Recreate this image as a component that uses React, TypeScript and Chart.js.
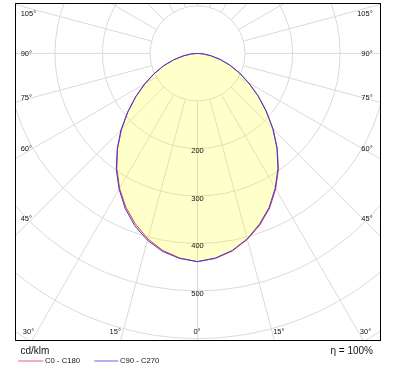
import React, { useEffect, useRef } from 'react';
import { Chart, registerables } from 'chart.js';

Chart.register(...registerables);

// Gamma angles (deg from nadir) and luminous intensity (cd/klm) per C-plane
const GAMMA = [0, 5, 10, 15, 20, 25, 30, 35, 40, 45, 50, 55, 60, 65, 70, 75, 80, 85, 90];
const C0 = [438, 433, 422, 405, 384, 359, 329, 297, 261, 225, 189, 156, 125, 98, 73, 50, 29, 13, 0];
const C180 = [438, 432, 421, 404, 382, 357, 328, 296, 262, 226, 191, 158, 127, 100, 75, 52, 30, 13, 0];
const C90 = [438, 432, 421, 404, 382, 357, 327, 295, 260, 224, 188, 155, 124, 97, 72, 49, 28, 12, 0];
const C270 = [438, 433, 423, 407, 386, 360, 330, 298, 263, 228, 192, 159, 129, 101, 76, 52, 31, 14, 0];

const RINGS = [100, 200, 300, 400, 500, 600, 700, 800, 900, 1000];
const RING_LABELS = [200, 300, 400, 500];
const SIDE_ANGLES = [105, 90, 75, 60, 45];
const BOTTOM_ANGLES = [30, 15, 0];
const SERIES_NAMES = ['C0 - C180', 'C90 - C270'];
const UNIT = 'cd/klm';
const EFFICIENCY = 'η = 100%';

const FONT = "'Liberation Sans', Arial, sans-serif";
const GRID_COLOR = '#dadada';
const RED = '#e83a3a';
const BLUE = '#3a3ae0';

function planePoints(left: number[], right: number[]) {
  const pts: { x: number; y: number }[] = [];
  for (let i = GAMMA.length - 1; i >= 0; i--) {
    const t = (GAMMA[i] * Math.PI) / 180;
    pts.push({ x: -left[i] * Math.sin(t), y: -left[i] * Math.cos(t) });
  }
  for (let i = 1; i < GAMMA.length; i++) {
    const t = (GAMMA[i] * Math.PI) / 180;
    pts.push({ x: right[i] * Math.sin(t), y: -right[i] * Math.cos(t) });
  }
  return pts;
}

const polarPlugin = {
  id: 'polarGrid',
  beforeDatasetsDraw(chart: any) {
    const { ctx, chartArea: a, scales } = chart;
    const x = scales.x;
    const y = scales.y;
    const cx = x.getPixelForValue(0);
    const cy = y.getPixelForValue(0);
    ctx.save();
    ctx.beginPath();
    ctx.rect(a.left, a.top, a.right - a.left, a.bottom - a.top);
    ctx.clip();
    ctx.strokeStyle = GRID_COLOR;
    ctx.lineWidth = 1;
    for (const v of RINGS) {
      const r = x.getPixelForValue(v) - cx;
      ctx.beginPath();
      ctx.arc(cx, cy, r, 0, Math.PI * 2);
      ctx.stroke();
    }
    const r0 = x.getPixelForValue(RINGS[0]) - cx;
    const r1 = 2000;
    ctx.beginPath();
    for (let deg = 0; deg < 360; deg += 15) {
      const t = (deg * Math.PI) / 180;
      ctx.moveTo(cx + r0 * Math.sin(t), cy + r0 * Math.cos(t));
      ctx.lineTo(cx + r1 * Math.sin(t), cy + r1 * Math.cos(t));
    }
    ctx.stroke();
    ctx.restore();
  },
  afterDatasetsDraw(chart: any) {
    const { ctx, chartArea: a, scales } = chart;
    const x = scales.x;
    const y = scales.y;
    const cx = x.getPixelForValue(0);
    const cy = y.getPixelForValue(0);
    ctx.save();
    ctx.fillStyle = '#111';
    ctx.font = `7.5px ${FONT}`;
    ctx.textBaseline = 'alphabetic';
    // ring labels
    ctx.textAlign = 'center';
    for (const v of RING_LABELS) {
      ctx.fillText(String(v), cx, y.getPixelForValue(-v) + 4.5);
    }
    // side angle labels
    const capH = 5.4;
    for (const g of SIDE_ANGLES) {
      const t = (g * Math.PI) / 180;
      const yl = cy + (166 * Math.cos(t)) / Math.sin(t);
      let base: number;
      if (g < 90) base = yl + 2;
      else if (g === 90) base = cy - 0.5 + capH / 2;
      else base = yl + 1.3 + capH;
      ctx.textAlign = 'left';
      ctx.fillText(`${g}°`, a.left + 4.7, base);
      ctx.textAlign = 'right';
      ctx.fillText(`${g}°`, a.right - 7.3, base);
    }
    // bottom angle labels
    const by = a.bottom - 7.3;
    for (const g of BOTTOM_ANGLES) {
      const t = (g * Math.PI) / 180;
      const lx = (by - cy) * Math.tan(t);
      if (g === 0) {
        ctx.textAlign = 'center';
        ctx.fillText(`${g}°`, cx - 0.5, by);
        continue;
      }
      ctx.textAlign = 'right';
      ctx.fillText(`${g}°`, cx - lx - 1.5, by);
      ctx.textAlign = 'left';
      ctx.fillText(`${g}°`, cx + lx + 0.5, by);
    }
    // frame
    ctx.strokeStyle = '#000';
    ctx.lineWidth = 1;
    ctx.strokeRect(a.left - 0.5, a.top + 0.5, a.right - a.left + 1, a.bottom - a.top - 1);
    // legend
    ctx.fillStyle = '#111';
    ctx.textAlign = 'left';
    ctx.font = `10px ${FONT}`;
    ctx.fillText(UNIT, a.left + 4.5, a.bottom + 13.3);
    ctx.textAlign = 'right';
    ctx.fillText(EFFICIENCY, a.right - 7, a.bottom + 12.5);
    ctx.lineWidth = 1.8;
    ctx.strokeStyle = '#f2a6b2';
    ctx.beginPath();
    ctx.moveTo(a.left + 2.3, a.bottom + 20);
    ctx.lineTo(a.left + 27.3, a.bottom + 20);
    ctx.stroke();
    ctx.strokeStyle = '#a9a9ec';
    ctx.beginPath();
    ctx.moveTo(a.left + 78.3, a.bottom + 20);
    ctx.lineTo(a.left + 102.3, a.bottom + 20);
    ctx.stroke();
    ctx.font = `7.7px ${FONT}`;
    ctx.textAlign = 'left';
    ctx.fillText(SERIES_NAMES[0], a.left + 29, a.bottom + 22.3);
    ctx.fillText(SERIES_NAMES[1], a.left + 104, a.bottom + 22.3);
    ctx.restore();
  },
};

export default function App() {
  const ref = useRef<HTMLCanvasElement | null>(null);
  useEffect(() => {
    if (!ref.current) return;
    const chart = new Chart(ref.current, {
      type: 'line',
      data: {
        datasets: [
          {
            label: SERIES_NAMES[1],
            data: planePoints(C270, C90),
            borderColor: BLUE,
            borderWidth: 1,
            pointRadius: 0,
            fill: false,
            tension: 0,
          },
          {
            label: SERIES_NAMES[0],
            data: planePoints(C180, C0),
            borderColor: RED,
            borderWidth: 1,
            pointRadius: 0,
            fill: false,
            tension: 0,
          },
          {
            label: 'area',
            data: planePoints(C270, C90),
            borderColor: 'rgba(0,0,0,0)',
            borderWidth: 0,
            backgroundColor: 'rgba(255,255,0,0.21)',
            pointRadius: 0,
            fill: 'shape',
            tension: 0,
          },
        ],
      } as any,
      options: {
        animation: false,
        responsive: false,
        events: [],
        layout: { padding: { left: 16, right: 16, top: 3, bottom: 32 } },
        scales: {
          x: { type: 'linear', min: -382, max: 384, display: false },
          y: { type: 'linear', min: -605, max: 106, display: false },
        },
        plugins: { legend: { display: false }, tooltip: { enabled: false } },
      } as any,
      plugins: [polarPlugin as any],
    });
    return () => chart.destroy();
  }, []);
  return (
    <div style={{ position: 'fixed', left: 0, top: 0, width: 396, height: 373, background: '#fff' }}>
      <canvas ref={ref} width={396} height={373} style={{ display: 'block' }} />
    </div>
  );
}
